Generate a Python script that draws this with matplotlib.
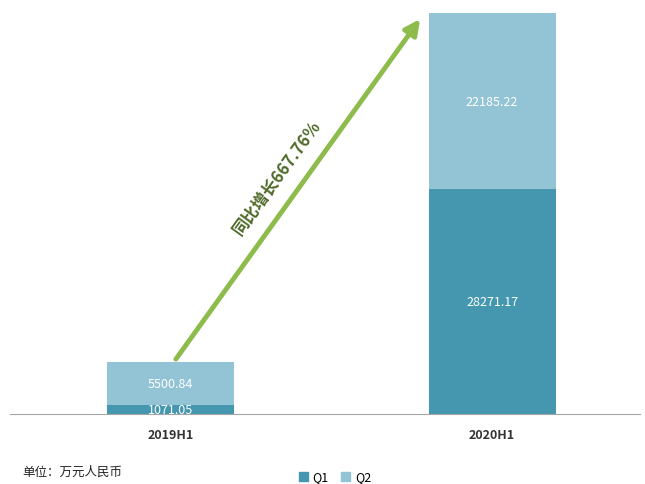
import matplotlib
matplotlib.use("Agg")
import matplotlib.pyplot as plt
from matplotlib.patches import Patch

plt.rcParams["font.family"] = ["Noto Sans CJK SC", "DejaVu Sans"]

categories = ["2019H1", "2020H1"]
q1 = [1071.05, 28271.17]
q2 = [5500.84, 22185.22]
growth_label = "同比增长667.76%"
unit_label = "单位：万元人民币"

c_q1 = "#4497ae"
c_q2 = "#93c4d6"

fig = plt.figure(figsize=(6.45, 4.85), dpi=100)
ax = fig.add_axes([10 / 645, 70 / 485, 630 / 645, 401 / 485])

x = list(range(len(categories)))
width = 0.396
ax.bar(x, q1, width, color=c_q1, label="Q1")
ax.bar(x, q2, width, bottom=q1, color=c_q2, label="Q2")

for i in x:
    ax.text(i, q1[i] / 2, f"{q1[i]:.2f}", ha="center", va="center",
            color="white", fontsize=9)
    ax.text(i, q1[i] + q2[i] / 2, f"{q2[i]:.2f}", ha="center", va="center",
            color="white", fontsize=9)

total = [a + b for a, b in zip(q1, q2)]
ax.set_xlim(-0.5, 1.46)
ax.set_ylim(0, total[1])

# growth arrow
ax.annotate("", xy=(0.776, total[1] * 0.985), xytext=(0.016, total[0] * 1.05),
            arrowprops=dict(arrowstyle="-|>,head_width=0.45,head_length=0.9",
                            color="#8dbb4c", lw=3.5, shrinkA=0, shrinkB=0))
ax.text(0.33, 29900, growth_label, rotation=54, ha="center", va="center",
        color="#4f6a28", fontsize=12, fontweight="bold", rotation_mode="anchor")

ax.set_xticks(x)
ax.set_xticklabels(categories, fontsize=9, fontweight="bold", color="#333333")
ax.tick_params(axis="x", length=0, pad=10)
ax.set_yticks([])
for side in ["top", "right", "left"]:
    ax.spines[side].set_visible(False)
ax.spines["bottom"].set_color("#a6a6a6")

fig.text(22 / 645, 1 - 472 / 485, unit_label, fontsize=9, va="center", color="#222222")
handles = [Patch(color=c_q1), Patch(color=c_q2)]
fig.legend(handles, ["Q1", "Q2"], loc="center", bbox_to_anchor=(335 / 645, 1 - 478 / 485),
           ncol=2, frameon=False, fontsize=9, handlelength=0.7, handleheight=0.7,
           handletextpad=0.4, columnspacing=1.0)

fig.savefig("out.png", dpi=100)
